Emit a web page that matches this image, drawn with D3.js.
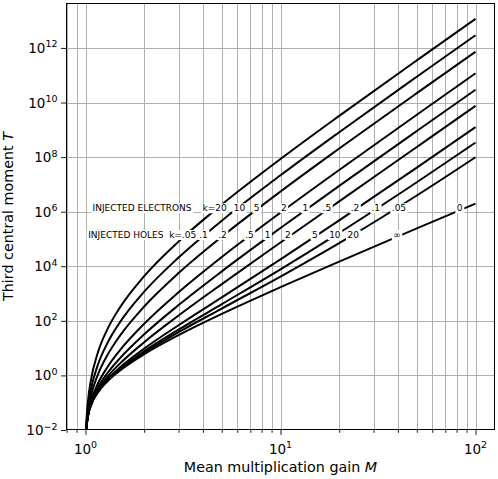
<!DOCTYPE html>
<html>
<head>
<meta charset="utf-8">
<script src="https://cdn.jsdelivr.net/npm/d3@7"></script>
<style>
  body { margin: 0; background: #fff; }
  text { font-family: "DejaVu Sans", sans-serif; fill: #000; }
</style>
</head>
<body>
<svg id="chart" width="498" height="479"></svg>
<script>
// ---- data ----
const gains = [1.005, 1.01, 1.03, 1.07, 1.15, 1.3, 1.5, 2, 3, 5, 10, 20, 50, 100];

// third central moment T for electron injection with ratio k (top curve first)
const moment_k20  = [0.0067, 0.0173, 0.114, 0.761, 5.97, 51.9, 305, 4330, 8.0e4, 1.83e6, 8.53e7, 3.25e9, 3.51e11, 1.16e13];
const moment_k10  = [0.00586, 0.0136, 0.0678, 0.342, 2.15, 16.1, 87.8, 1170, 2.08e4, 4.67e5, 2.15e7, 8.16e8, 8.79e10, 2.91e12];
const moment_k5   = [0.00546, 0.0119, 0.0488, 0.193, 0.947, 5.80, 28.2, 336, 5610, 1.21e5, 5.48e6, 2.06e8, 2.21e10, 7.28e11];
const moment_k2   = [0.00523, 0.0109, 0.0388, 0.124, 0.456, 2.08, 8.25, 78, 1110, 2.18e4, 9.25e5, 3.38e7, 3.57e9, 1.17e11];
const moment_k1   = [0.00515, 0.0106, 0.0357, 0.104, 0.331, 1.25, 4.22, 32, 378, 6500, 2.52e5, 8.82e6, 9.07e8, 2.95e10];
const moment_k05  = [0.00511, 0.0105, 0.0342, 0.0944, 0.275, 0.913, 2.70, 16.5, 156, 2220, 7.40e4, 2.39e6, 2.34e8, 7.50e9];
const moment_k02  = [0.00509, 0.0104, 0.0333, 0.0889, 0.244, 0.733, 1.94, 9.6, 68.9, 727, 1.79e4, 4.80e5, 4.13e7, 1.26e9];
const moment_k01  = [0.00508, 0.0103, 0.0330, 0.0872, 0.234, 0.678, 1.71, 7.7, 47.5, 409, 7710, 1.67e5, 1.20e7, 3.41e8];
const moment_k005 = [0.00508, 0.0103, 0.0329, 0.0863, 0.229, 0.651, 1.60, 6.83, 38.3, 283, 4180, 7.04e4, 3.92e6, 9.89e7];
const moment_k0   = [0.00508, 0.0103, 0.0328, 0.0854, 0.224, 0.624, 1.5, 6, 30, 180, 1710, 1.48e4, 2.43e5, 1.97e6];

const seriesList = [moment_k20, moment_k10, moment_k5, moment_k2, moment_k1,
                    moment_k05, moment_k02, moment_k01, moment_k005, moment_k0];

// inline curve labels
const electronLabels    = ["k=20", "10", "5", "2", "1", ".5", ".2", ".1", ".05", "0"];
const electronLabelGain = [4.59, 6.16, 7.55, 10.4, 13.4, 17.3, 24.1, 30.8, 40.5, 83.0];
const holeLabels        = ["k=.05", ".1", ".2", ".5", "1", "2", "5", "10", "20", "\u221e"];
const holeLabelGain     = [3.15, 4.03, 5.04, 6.93, 8.58, 10.9, 15.0, 19.0, 23.6, 39.6];
const rowTitles     = ["INJECTED ELECTRONS", "INJECTED HOLES"];
const rowTitleGain  = [1.95, 1.61];
const rowMoment     = [1.33e6, 1.40e5];

const yTickExponents = [-2, 0, 2, 4, 6, 8, 10, 12];
const xTickExponents = [0, 1, 2];

// ---- layout ----
const W = 498, H = 479;
const L = 66, R = 495, T = 3, B = 430;

const svg = d3.select("#chart");
svg.append("rect").attr("width", W).attr("height", H).attr("fill", "#fff");

const x = d3.scaleLog().domain([Math.pow(10, -0.1), Math.pow(10, 2.1)]).range([L, R]);
const y = d3.scaleLog().domain([1e-2, Math.pow(10, 13.647)]).range([B, T]);

svg.append("clipPath").attr("id", "clip")
  .append("rect").attr("x", L).attr("y", T).attr("width", R - L).attr("height", B - T);

// grid
const xGridVals = x.ticks().filter(v => x(v) > L + 0.5 && x(v) < R - 0.5);
const xMajorVals = xTickExponents.map(e => Math.pow(10, e));
const yMajorVals = yTickExponents.map(e => Math.pow(10, e));

const grid = svg.append("g").attr("stroke", "#b0b0b0").attr("stroke-width", 1);
grid.selectAll("line.vx").data(xGridVals).join("line")
  .attr("x1", d => Math.round(x(d)) + 0.5).attr("x2", d => Math.round(x(d)) + 0.5)
  .attr("y1", T).attr("y2", B);
grid.selectAll("line.hy").data(yMajorVals.filter(v => y(v) > T + 0.5 && y(v) < B - 0.5)).join("line")
  .attr("y1", d => Math.round(y(d)) + 0.5).attr("y2", d => Math.round(y(d)) + 0.5)
  .attr("x1", L).attr("x2", R);

// curves
const line = d3.line()
  .x((d, i) => x(gains[i]))
  .y(d => y(d))
  .curve(d3.curveMonotoneX);

svg.append("g").attr("clip-path", "url(#clip)")
  .selectAll("path").data(seriesList).join("path")
  .attr("d", line)
  .attr("fill", "none")
  .attr("stroke", "#000")
  .attr("stroke-width", 2)
  .attr("stroke-linejoin", "round");

// labels with white boxes
const labelG = svg.append("g");
function addLabel(txt, g, m) {
  const gg = labelG.append("g");
  const t = gg.append("text")
    .attr("x", x(g)).attr("y", y(m))
    .attr("text-anchor", "middle")
    .attr("dominant-baseline", "central")
    .attr("font-size", 9)
    .text(txt);
  const b = t.node().getBBox();
  gg.insert("rect", "text")
    .attr("x", b.x - 1.5).attr("y", b.y)
    .attr("width", b.width + 3).attr("height", b.height)
    .attr("fill", "#fff");
}
rowTitles.forEach((s, i) => addLabel(s, rowTitleGain[i], rowMoment[i]));
electronLabels.forEach((s, i) => addLabel(s, electronLabelGain[i], rowMoment[0]));
holeLabels.forEach((s, i) => addLabel(s, holeLabelGain[i], rowMoment[1]));

// frame
svg.append("rect").attr("x", L + 0.5).attr("y", T + 0.5)
  .attr("width", R - L - 1).attr("height", B - T - 1)
  .attr("fill", "none").attr("stroke", "#000").attr("stroke-width", 1);

// x axis ticks
const xAxisMajor = d3.axisBottom(x).tickValues(xMajorVals).tickSize(4.9).tickFormat(() => "");
const xAxisMinor = d3.axisBottom(x).tickValues(xGridVals.filter(v => !xMajorVals.includes(v))).tickSize(2.8).tickFormat(() => "");
const gxMaj = svg.append("g").attr("transform", `translate(0,${B})`).call(xAxisMajor);
const gxMin = svg.append("g").attr("transform", `translate(0,${B})`).call(xAxisMinor);
[gxMaj, gxMin].forEach(g => { g.select(".domain").remove(); g.selectAll("line").attr("stroke", "#000").attr("stroke-width", 0.9); });

const yAxisMajor = d3.axisLeft(y).tickValues(yMajorVals).tickSize(4.9).tickFormat(() => "");
const gy = svg.append("g").attr("transform", `translate(${L},0)`).call(yAxisMajor);
gy.select(".domain").remove();
gy.selectAll("line").attr("stroke", "#000").attr("stroke-width", 0.9);

const expText = e => (e < 0 ? "\u2212" + Math.abs(e) : String(e));

// x tick labels
xTickExponents.forEach(e => {
  const t = svg.append("text").attr("x", x(Math.pow(10, e))).attr("y", 453.5)
    .attr("text-anchor", "middle").attr("font-size", 13.5);
  t.append("tspan").text("10");
  t.append("tspan").attr("font-size", 9.5).attr("dy", -5.5).text(expText(e));
});
// y tick labels
yTickExponents.forEach(e => {
  const t = svg.append("text").attr("x", 57.5).attr("y", y(Math.pow(10, e)) + 5)
    .attr("text-anchor", "end").attr("font-size", 13.5);
  t.append("tspan").text("10");
  t.append("tspan").attr("font-size", 9.5).attr("dy", -5.5).text(expText(e));
});

// axis titles
const xt = svg.append("text").attr("x", (L + R) / 2).attr("y", 472)
  .attr("text-anchor", "middle").attr("font-size", 14.3);
xt.append("tspan").text("Mean multiplication gain ");
xt.append("tspan").attr("font-style", "italic").text("M");

const yt = svg.append("text")
  .attr("transform", `translate(13,${(T + B) / 2}) rotate(-90)`)
  .attr("text-anchor", "middle").attr("font-size", 14.3);
yt.append("tspan").text("Third central moment ");
yt.append("tspan").attr("font-style", "italic").text("T");
</script>
</body>
</html>
